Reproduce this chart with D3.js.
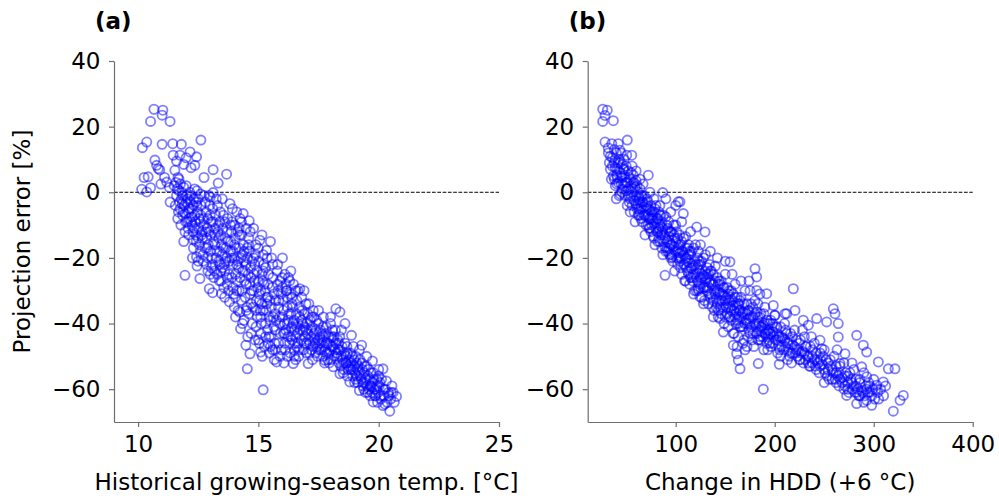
<!DOCTYPE html>
<html>
<head>
<meta charset="utf-8">
<script src="https://cdn.jsdelivr.net/npm/d3@7"></script>
<style>
  body { margin: 0; background: #fff; }
  svg { font-family: "DejaVu Sans", sans-serif; }
  .tick text { font-size: 23px; fill: #000; }
  .tick line, .domain { stroke: #6e6e6e; stroke-width: 1.2px; }
</style>
</head>
<body>
<div id="chart"></div>
<script>
// panel (a): historical growing-season temp [°C] vs projection error [%]
const tempPoints = [
  [10.66,25.3],[11.03,25],[11.0,23.5],[10.52,21.6],[11.33,21.6],
  [10.18,13.6],[10.36,15.3],[11.0,14.6],[11.44,14.8],[11.8,14.6],[12.61,15.9],
  [10.15,0.9],[10.36,0.1],[10.52,1.4],[10.25,4.5],[10.42,4.7],[10.7,9.8],[10.77,8.2],[10.84,7.2],[10.9,6.8],
  [11.46,11.3],[11.74,11.3],[12.16,12.3],[12.43,10.8],[12.36,8.2],[12.74,4.5],[13.12,6.9],[13.68,5.5],
  [13.33,2.8],[13.12,-0.1],[11.33,-3],[11.19,3.1],[11.53,6.7],[11.6,9.5],[11.9,8.5],[12.0,10.5],[12.2,7.5],
  [11.1,4.5],[11.3,1.5],[10.95,2.5],[11.7,4.0],
  [11.5,2],[11.6,-1],[11.7,0.5],[11.8,-2],[11.55,-4],[11.9,1.5],[11.75,-5],[11.85,-7],[12.0,-3],[12.05,-9],
  [11.95,-12],[12.1,-6],[11.65,-8],[11.95,-25.3],[11.9,-15],
  [12.2,-1],[12.3,-4],[12.25,-10],[12.4,-13],[12.35,-7],[12.5,-2],[12.55,-16],[12.43,-19.7],[12.57,-26.3],
  [12.3,-17],[12.6,-9],[12.45,0.5],[12.65,-12],[12.5,-21],
  [12.8,-3],[12.9,-8],[12.85,-14],[13.0,-18],[12.96,-29.4],[13.1,-30.6],[13.05,-23],[13.1,-5],[13.2,-11],
  [12.9,-20],[13.15,-26],[13.2,-16],[13.0,-1.5],
  [13.3,-4],[13.4,-9],[13.35,-14],[13.5,-19],[13.47,-30.9],[13.6,-24],[13.45,-27],[13.55,-7],[13.7,-12],
  [13.65,-17],[13.4,-22],[13.7,-28],[13.5,-2],[13.6,-32],
  [13.82,-3.5],[13.8,-33.4],[13.9,-9],[13.85,-15],[14.0,-20],[14.05,-25],[13.95,-29],[14.1,-6],[14.15,-12],
  [14.2,-17],[14.0,-35],[14.2,-30],[14.1,-22],[13.9,-26],[14.05,-38],
  [14.23,-36.5],[14.26,-41.6],[14.48,-46.6],[14.65,-49.2],[14.54,-53.8],[14.37,-6.5],[14.62,-8.7],[14.3,-13],
  [14.4,-18],[14.35,-24],[14.5,-28],[14.45,-32],[14.6,-14],[14.55,-20],[14.7,-26],[14.4,-39],[14.6,-37],
  [14.7,-43],[14.5,-11],[14.65,-31],[14.3,-9],
  [14.8,-11],[14.9,-16],[14.85,-22],[15.0,-27],[15.05,-33],[14.95,-38],[15.1,-43],[15.09,-48.7],[15.2,-60.2],
  [15.06,-14.6],[15.2,-19],[15.15,-25],[15.1,-30],[14.9,-41],[15.2,-36],[15.0,-45],[14.8,-30],[15.15,-13],
  [15.34,-17.7],[15.3,-23],[15.4,-28],[15.35,-34],[15.5,-39],[15.45,-44],[15.6,-48],[15.76,-51.7],[15.55,-20],
  [15.6,-26],[15.65,-31],[15.7,-37],[15.5,-15],[15.4,-46],[15.7,-42],[15.3,-40],
  [15.8,-22],[15.9,-27],[15.85,-33],[16.0,-38],[16.05,-43],[15.95,-48],[16.1,-25],[16.15,-30],[16.2,-35],
  [16.0,-20],[16.1,-46],[16.2,-40],[15.9,-50],[16.2,-50],[16.15,-28],
  [16.3,-27],[16.4,-32],[16.35,-37],[16.5,-42],[16.45,-52.2],[16.6,-47],[16.55,-30],[16.72,-29.4],[16.7,-35],
  [16.65,-40],[16.4,-45],[16.5,-50],[16.6,-33],[16.35,-24],
  [16.8,-32],[16.9,-37],[16.85,-42],[17.0,-46],[17.07,-52.2],[17.1,-34],[17.15,-39],[17.2,-44],[17.0,-49],
  [16.9,-30],[17.2,-48],[17.28,-36],
  [17.3,-38],[17.4,-42],[17.35,-46],[17.5,-40],[17.55,-44],[17.6,-48],[17.7,-41],[17.65,-45],[17.45,-50],
  [17.76,-51.2],[17.5,-36],[17.7,-38],
  [17.8,-43],[17.9,-46],[17.85,-49],[18.0,-40],[18.05,-44],[18.1,-47],[18.11,-53.2],[18.22,-35.5],[18.2,-42],
  [18.15,-50],[17.95,-52],[18.0,-38],
  [18.39,-36.5],[18.39,-55.3],[18.3,-45],[18.4,-48],[18.5,-51],[18.45,-42],[18.6,-46],[18.55,-54],[18.7,-49],
  [18.65,-52],[18.6,-40],[18.35,-52],[18.7,-56],
  [18.87,-43.6],[18.8,-57.8],[18.9,-50],[19.0,-53],[18.95,-47],[19.1,-56],[19.05,-50],[19.2,-60.4],[19.15,-53],
  [19.2,-48],[18.85,-54],[19.0,-58],
  [19.29,-46.6],[19.3,-52],[19.4,-55],[19.35,-58],[19.5,-53],[19.55,-56],[19.6,-60],[19.7,-55],[19.65,-62],
  [19.45,-61],[19.5,-50],
  [19.74,-51.4],[19.77,-63.9],[19.8,-57],[19.9,-60],[20.0,-54],[20.05,-58],[20.1,-62],[20.18,-53.8],[20.18,-65],
  [19.95,-64],[20.2,-60],[20.0,-56],
  [20.32,-57.5],[20.74,-62.2],[20.46,-66.7],[20.4,-61],[20.5,-63],[20.55,-59],[20.6,-61],[20.35,-64],[20.65,-64]
]

// densest part of the (a) cloud
const tempCore = [
  [11.62,1],[11.72,-3],[11.82,0],[11.92,-4],[12.02,-1],[12.12,-8],[11.68,-6],[11.78,-10],[11.88,-6],
  [11.98,-9],[12.08,-11],[12.18,-3],[11.58,3],[11.66,4.5],[11.76,2.5],[11.86,-1],[12.0,2],[12.15,0],
  [12.22,-5],[12.28,-12],[12.32,-2],[12.38,-9],[12.42,-15],[12.48,-6],[12.52,-11],[12.58,-18],[12.62,-4],
  [12.68,-14],[12.72,-8],[12.78,-17],[12.26,-20],[12.45,-22.5],[12.7,-21],[12.75,-1],[12.35,1],[12.6,-0.5],
  [12.82,-6],[12.88,-11],[12.92,-16],[12.98,-4],[13.02,-13],[13.08,-20],[13.12,-9],[13.18,-24],[13.22,-7],
  [13.28,-18],[13.32,-12],[13.38,-27],[12.84,-22],[13.0,-25],[13.25,-2],[13.36,-21],[12.95,-1],
  [13.42,-6],[13.46,-16],[13.52,-11],[13.58,-22],[13.62,-14],[13.68,-20],[13.72,-8],[13.78,-25],[13.84,-18],
  [13.88,-12],[13.94,-22],[13.98,-31],[13.44,-24],[13.56,-29],[13.76,-30],[13.92,-5],
  [14.02,-10],[14.08,-17],[14.12,-27],[14.18,-23],[14.22,-13],[14.28,-20],[14.32,-30],[14.38,-16],[14.42,-27],
  [14.48,-22],[14.52,-35],[14.58,-25],[14.04,-32],[14.16,-36],[14.34,-40],[14.56,-44],[14.24,-8],
  [14.62,-18],[14.68,-23],[14.72,-30],[14.78,-35],[14.82,-25],[14.88,-19],[14.92,-33],[14.98,-29],[15.02,-21],
  [15.08,-36],[15.12,-40],[15.18,-27],[14.75,-40],[14.86,-45],[15.04,-46],[15.16,-50],[14.66,-12],
  [15.22,-22],[15.28,-30],[15.32,-36],[15.38,-42],[15.42,-25],[15.48,-33],[15.52,-44],[15.58,-29],[15.62,-38],
  [15.68,-46],[15.72,-33],[15.78,-24],[15.25,-47],[15.46,-49],[15.66,-51],[15.36,-20],
  [15.82,-30],[15.88,-38],[15.92,-43],[15.98,-26],[16.02,-33],[16.08,-40],[16.12,-48],[16.18,-30],[16.22,-44],
  [16.28,-37],[16.32,-49],[16.38,-41],[15.84,-46],[16.06,-52],[16.25,-26],[16.36,-31],
  [16.42,-35],[16.48,-39],[16.52,-46],[16.58,-37],[16.62,-43],[16.68,-50],[16.72,-38],[16.78,-45],[16.82,-36],
  [16.88,-48],[16.92,-41],[16.98,-34],[16.46,-28],[16.64,-30],[16.55,-51],
  [17.02,-40],[17.08,-45],[17.12,-49],[17.18,-42],[17.22,-38],[17.28,-47],[17.32,-43],[17.38,-49],[17.42,-39],
  [17.48,-45],[17.52,-48],[17.58,-42],[17.05,-37],[17.25,-51],
  [17.62,-46],[17.68,-50],[17.72,-44],[17.78,-48],[17.82,-41],[17.88,-51],[17.92,-44],[17.98,-48],[18.02,-51],
  [18.08,-42],[18.12,-45],[18.18,-48],[17.75,-52],
  [18.22,-46],[18.28,-50],[18.32,-48],[18.38,-44],[18.42,-53],[18.48,-47],[18.52,-55],[18.58,-49],[18.62,-52],
  [18.68,-47],[18.72,-53],[18.78,-51],
  [18.82,-49],[18.88,-53],[18.92,-56],[18.98,-51],[19.02,-55],[19.08,-52],[19.12,-58],[19.18,-55],[19.22,-51],
  [19.28,-57],[19.32,-54],[19.38,-60],
  [19.42,-53],[19.48,-57],[19.52,-59],[19.58,-54],[19.62,-57],[19.68,-59],[19.72,-61],[19.78,-55],[19.82,-60],
  [19.88,-62],[19.92,-57],[19.98,-61],
  [20.02,-59],[20.08,-63],[20.12,-57],[20.22,-62],[20.28,-60],[20.42,-62],[20.52,-61],[20.25,-64.5],
  [11.84,-3.5],[11.96,-6.5],[12.06,-2],[12.14,-5],[12.24,-7.5],[12.34,-11],[12.44,-4],[12.54,-8],[12.64,-13],
  [12.74,-10],[12.86,-17],[12.94,-12],[13.04,-9],[13.14,-15],[13.24,-20],[13.34,-10],[13.44,-13],[13.54,-17],
  [13.64,-21],[13.74,-15],[13.84,-10],[13.94,-18],[14.04,-14],[14.14,-21],[14.24,-26],[14.34,-19],[14.44,-24],
  [14.54,-17],[14.64,-28],[14.74,-21],[14.84,-27],[14.94,-24],[15.04,-31],[15.14,-34],[15.24,-28],[15.34,-32],
  [15.44,-38],[15.54,-35],[15.64,-41],[15.74,-39],[15.84,-35],[15.94,-31],[16.04,-36],[16.14,-42],[16.24,-39],
  [16.34,-44],[16.44,-40],[16.54,-44],[16.64,-46],[16.74,-42],[16.84,-40],[16.94,-44],[17.04,-43],[17.14,-46],
  [17.24,-41],[17.34,-45],[17.44,-47],[17.54,-46],[17.64,-43],[17.74,-47],[17.84,-46],[17.94,-49],[18.04,-47],
  [18.14,-44],[18.24,-49],[18.34,-46],[18.44,-50],[18.54,-52],[18.64,-50],[18.74,-54],[18.84,-52],[18.94,-54],
  [19.04,-57],[19.14,-54],[19.24,-56],[19.34,-59],[19.44,-58],[19.54,-61],[19.64,-59],[19.74,-58],[19.84,-62],
  [19.94,-59],
  [12.1,-13],[12.3,-14.5],[12.5,-14],[12.7,-19],[12.9,-24],[13.1,-22],[13.3,-25],[13.5,-23],[13.7,-26],
  [13.9,-20],[14.1,-30],[14.3,-33],[14.5,-36],[14.7,-34],[14.9,-36],[15.1,-38],[15.3,-44],[15.5,-47],
  [15.7,-48],[15.9,-40],[16.1,-43],[16.3,-46],[16.5,-48],[16.7,-48],[16.9,-46],[12.2,-9],[12.4,-3],[12.6,-7],
  [12.8,-12],[13.0,-7],[13.2,-13],[13.4,-18],[13.6,-9],[13.8,-21],[14.0,-16],[14.2,-11],[14.4,-21],[14.6,-16],
  [14.8,-20],[15.0,-17],[15.2,-24],[15.4,-32],[15.6,-22],[15.8,-28],[16.0,-29],[16.2,-32],[16.4,-34],[16.6,-41],
  [16.8,-39],[17.0,-42]
]

// panel (b): change in HDD (+6 °C) vs projection error [%]
const hddPoints = [
  [26.3,25.3],[30.9,25],[28.6,23.4],[26.3,21.6],[37,21.8],[28.6,15.3],[35.4,14.8],[42,14.8],[51.1,15.9],
  [31.9,13.5],[43.7,12.8],[38.7,9.8],[50.5,11.3],[55.6,11.3],[40.4,5.2],[40.4,2.6],[45.5,0.1],[57.2,5.2],
  [72.3,5.2],[102.6,-2.9],[86.9,-0.1],[104.3,-2.9],[107.7,-6.5],[63.2,-7.0],[77.4,-13.4],[89.2,-16.7],
  [121.2,-10.6],[129.6,-12.1],
  [89.2,-25.3],[96,-19.7],[122.8,-29.4],[124.5,-31.9],[144.7,-38.5],[148.1,-42.6],[158.2,-46.6],[161.6,-49.2],
  [165,-53.8],[163.2,-51.2],[183.4,-52.2],[204.6,-52.4],[188.5,-60],
  [154.8,-21.2],[180.1,-23.3],[181.8,-25.8],[174,-27],[181.8,-29.9],[191.9,-30.9],[198.6,-34.5],[210.4,-37],
  [220.5,-36],[218.8,-29.4],[259.2,-35.5],[260.9,-37],[242.4,-38.5],[252.5,-39.5],[264.2,-40],[228.9,-39],
  [234,-40.5],[212.1,-37],[200.3,-37.5],[264.2,-44.1],[271,-49.2],[245.8,-45.1],[247.5,-47.7],
  [272.7,-61.9],[282.8,-64.4],[292.9,-63.4],[298,-64.9],[319.8,-66.7],[326.6,-63.4],[329.9,-61.9],
  [304.7,-51.7],[314.8,-53.8],[321.5,-53.8],[309.7,-57.8],[282.8,-43.6],[289.5,-46.6],[292.9,-48.7],
  [266,-52.2],[287.9,-53.2],[292.9,-56.2],[303,-58.8],
  [36,8],[38,4],[42,9],[44,6],[40,12],[45,2.5],[43,-1],[34,11],[39,7.5],
  [47,7],[49,3],[50,0.5],[52,6.5],[53,-3],[48,10],[55,2],[54,-6],[46,4.5],
  [57,1],[58,-2.5],[60,3.5],[61,-5],[62,0],[64,-3],[65,-8],[59,-9],[63,-1.5],
  [66,-1],[68,-4.5],[70,-7],[71,-2],[72,-10],[74,-5.5],[75,-12],[69,-13],[73,-8],
  [76,-6],[78,-9.5],[80,-4],[81,-12],[82,-8],[84,-15],[85,-10.5],[79,-16],[83,-11],
  [86,-9],[88,-13],[90,-7.5],[91,-17],[92,-11],[94,-15.5],[95,-20],[87,-19],[93,-13.5],
  [96,-12],[98,-16.5],[100,-10],[101,-20],[102,-14],[104,-18.5],[105,-23],[99,-24],[103,-16],
  [106,-15],[108,-19],[110,-13.5],[111,-23],[112,-17],[114,-21.5],[115,-26],[109,-27],[113,-19],
  [116,-18],[118,-22.5],[120,-16],[121,-26],[122,-20],[124,-24],[125,-29],[119,-30],[123,-22],
  [126,-21],[128,-25.5],[130,-19],[131,-29],[132,-23],[134,-27.5],[135,-32],[129,-33],[133,-25],
  [136,-24],[138,-28],[140,-22.5],[141,-32],[142,-26],[144,-30.5],[145,-35],[139,-36],[143,-28],
  [146,-27],[148,-31.5],[150,-25],[151,-35],[152,-29],[154,-33],[155,-38],[149,-40],[153,-31],
  [156,-30],[158,-34.5],[160,-28],[161,-37],[162,-32],[164,-36],[165,-41],[159,-43],[163,-34],
  [166,-32],[168,-36.5],[170,-30],[171,-39],[172,-34],[174,-38.5],[175,-43],[169,-45],[173,-36],
  [176,-34],[178,-38],[180,-33],[181,-41],[182,-36.5],[184,-40],[185,-44],[179,-47],[183,-38],
  [186,-37],[188,-40.5],[190,-35],[191,-43],[192,-39],[194,-42],[195,-46],[189,-48],
  [196,-39],[198,-42.5],[200,-37.5],[201,-45],[202,-41],[204,-44],[205,-48],
  [206,-41],[208,-44.5],[210,-40],[211,-47],[212,-43],[214,-46],[215,-50],
  [216,-43],[218,-46.5],[220,-42],[221,-49],[222,-45],[224,-48],[225,-51],
  [226,-45],[228,-48.5],[230,-44],[231,-51],[232,-47],[234,-50],[235,-53],
  [236,-47],[238,-50],[240,-46],[241,-53],[242,-49],[244,-52],[245,-55],
  [246,-49],[248,-52.5],[250,-48],[251,-55],[252,-51],[254,-54],[255,-57],
  [256,-51],[258,-54],[260,-50],[261,-57],[262,-53],[264,-56],[265,-59],
  [266,-53],[268,-56.5],[270,-52],[271,-59],[272,-55],[274,-58],[275,-61],
  [276,-55],[278,-58],[280,-54],[281,-61],[282,-57],[284,-60],[285,-62],
  [286,-57],[288,-60.5],[290,-55],[291,-62],[292,-59],[294,-61],[295,-58],
  [296,-59],[298,-62],[300,-57],[301,-63],[302,-60],[304,-61],
  [307,-60],[310,-62],[312,-59]
]

// densest part of the (b) cloud
const hddCore = [
  [32,12],[34,7],[36,10.5],[37,5],[38,13],[39,2],[41,7],[42,3],[43,10],[44,-0.5],[46,8.5],[47,2],[48,5],
  [49,-1],[50,8],[51,3],[33,9],[35,4],[45,12],[40,-2],
  [52,1],[53,4.5],[54,-2],[55,6],[56,-4],[57,3],[58,-6],[59,1.5],[60,-3.5],[61,2],[62,-7],[63,-2],[64,1],
  [65,-5],[66,-9],[67,-3],[68,-1],[69,-7],[70,-10],[56,8],[60,6.5],[64,4],[51,-4],[67,2.5],
  [71,-5],[72,-3],[73,-11],[74,-8],[75,-4],[76,-10],[77,-7],[78,-14],[79,-5],[80,-11],[81,-8],[82,-15],
  [83,-6],[84,-10],[85,-13],[86,-17],[87,-11],[88,-7],[89,-14],[90,-18],[74,0],[78,-2],[84,-4],[90,-2],
  [91,-10],[92,-15],[93,-9],[94,-19],[95,-12],[96,-16],[97,-21],[98,-10],[99,-14],[100,-18],[101,-12],
  [102,-22],[103,-17],[104,-13],[105,-20],[106,-25],[107,-18],[108,-14],[109,-22],[110,-17],[95,-6],
  [100,-4],[106,-9],[110,-27],
  [111,-20],[112,-24],[113,-16],[114,-28],[115,-19],[116,-23],[117,-27],[118,-17],[119,-21],[120,-25],
  [121,-30],[122,-23],[123,-18],[124,-28],[125,-22],[126,-32],[127,-26],[128,-20],[129,-29],[130,-24],
  [115,-12],[125,-16],[118,-31],[128,-34],
  [131,-25],[132,-30],[133,-34],[134,-22],[135,-27],[136,-31],[137,-35],[138,-25],[139,-30],[140,-27],
  [141,-35],[142,-30],[143,-38],[144,-33],[145,-28],[146,-37],[147,-31],[148,-35],[149,-29],[150,-38],
  [135,-18],[142,-20],[138,-38],[150,-21],
  [151,-32],[152,-37],[153,-41],[154,-30],[155,-35],[156,-39],[157,-33],[158,-43],[159,-36],[160,-32],
  [161,-40],[162,-35],[163,-44],[164,-38],[165,-33],[166,-41],[167,-37],[168,-46],[169,-34],[170,-40],
  [157,-25],[166,-27],[162,-47],[170,-48],
  [172,-37],[174,-42],[176,-38],[177,-45],[178,-35],[180,-40],[182,-43],[183,-34],[185,-38],[186,-45],
  [187,-41],[189,-37],[190,-43],[192,-46],[193,-40],[195,-43],[196,-47],[198,-40],[199,-44],[175,-30],
  [185,-31],[193,-48],[172,-47],
  [202,-43],[204,-47],[207,-44],[209,-48],[211,-42],[213,-46],[216,-49],[218,-44],[220,-47],[223,-50],
  [225,-46],[227,-49],[229,-52],[231,-47],[233,-50],[236,-53],[238,-48],[240,-51],[206,-50],[217,-52],
  [228,-42],[237,-44],
  [243,-51],[246,-53],[249,-50],[253,-56],[256,-53],[259,-55],[262,-58],[265,-55],[268,-58],[271,-56],
  [274,-60],[277,-57],[280,-59],[283,-61],[286,-58],[289,-61],[293,-60],[296,-61],[299,-60],[250,-58],
  [263,-48],[278,-52],[290,-64],[305,-63],
  [38,9],[41,4.5],[44,9],[46,1],[48,7],[50,3],[52,-1],[54,4],[56,0],[58,3],[60,-1],[62,-4],[64,-6],[66,-3],
  [68,-7],[70,-4],[72,-7],[74,-11],[76,-8],[78,-6],[80,-9],[82,-12],[84,-7],[86,-12],[88,-15],[90,-12],
  [92,-18],[94,-12],[96,-19],[98,-13],[100,-15],[102,-18],[104,-21],[106,-18],[108,-22],[110,-20],[112,-21],
  [114,-18],[116,-26],[118,-25],[120,-22],[122,-27],[124,-21],[126,-25],[128,-29],[130,-27],[132,-26],
  [134,-31],[136,-28],[138,-33],[140,-31],[142,-34],[144,-27],[146,-33],[148,-29],[150,-33],[152,-34],
  [154,-38],[156,-36],[158,-31],[160,-38],[162,-39],[164,-34],[166,-38],[168,-41],[170,-37],[172,-40],
  [174,-36],[176,-41],[178,-43],[180,-37],[182,-40],[184,-45],[186,-41],[188,-44],[190,-40],[192,-42],
  [194,-45],[196,-43],[198,-46],[200,-41],[203,-45],[207,-47],[210,-45],[214,-48],[218,-49],[222,-48],
  [226,-51],[230,-49],[234,-52],[238,-52],[242,-54],[246,-51],[250,-54],[254,-52],[258,-57],[262,-55],
  [266,-57],[270,-60],[274,-56],[278,-60],[282,-59],[286,-62],
  [45,5],[55,-1],[65,-1],[75,-8],[85,-7],[95,-16],[105,-16],[115,-23],[125,-26],[135,-24],[145,-31],
  [155,-32],[165,-36],[175,-40],[185,-42],[195,-40],[205,-44],[215,-45],[63,-5],[73,-5],[83,-14],[93,-17],
  [103,-20],[113,-25],[123,-30],[133,-29],[143,-36],[153,-35],[163,-40],[173,-44],[183,-45],[193,-44],
  [203,-49],[213,-51]
]

const errTicks = [-60, -40, -20, 0, 20, 40]
const tempTicks = [10, 15, 20, 25]
const hddTicks = [100, 200, 300, 400]

const width = 999
const height = 501
const plotTop = 61, plotBottom = 422
const fontPx = '23px'

const svg = d3.select('#chart').append('svg')
    .attr('width', width)
    .attr('height', height)

const yScale = d3.scaleLinear()
    .domain([-70, 40])
    .range([plotBottom, plotTop])

function drawPanel(points, xDomain, xRange, xTicks, xLabel, tag) {
    const xScale = d3.scaleLinear()
        .domain(xDomain)
        .range(xRange)

    const g = svg.append('g')

    // zero line
    g.append('line')
        .attr('x1', xRange[0])
        .attr('x2', xRange[1])
        .attr('y1', yScale(0))
        .attr('y2', yScale(0))
        .attr('stroke', '#000')
        .attr('stroke-width', 1)
        .attr('stroke-dasharray', '3.7,1.6')

    g.append('g')
        .selectAll('circle')
        .data(points)
        .enter()
        .append('circle')
            .attr('cx', d => xScale(d[0]))
            .attr('cy', d => yScale(d[1]))
            .attr('r', 4.6)
            .attr('fill', 'none')
            .attr('stroke', 'blue')
            .attr('stroke-opacity', 0.5)
            .attr('stroke-width', 1.8)

    const xAxis = d3.axisBottom(xScale)
        .tickValues(xTicks)
        .tickSize(5)
        .tickPadding(9)
        .tickSizeOuter(0)
    const yAxis = d3.axisLeft(yScale)
        .tickValues(errTicks)
        .tickSize(5)
        .tickPadding(8.5)
        .tickSizeOuter(0)
        .tickFormat(d => d < 0 ? '\u2212' + Math.abs(d) : d)

    g.append('g')
        .attr('transform', `translate(0, ${plotBottom})`)
        .call(xAxis)
        .attr('font-family', null)
        .attr('font-size', null)
    g.append('g')
        .attr('transform', `translate(${xRange[0]}, 0)`)
        .call(yAxis)
        .attr('font-family', null)
        .attr('font-size', null)

    g.append('text')
        .text(xLabel)
        .attr('x', (xRange[0] + xRange[1]) / 2)
        .attr('y', 490)
        .attr('text-anchor', 'middle')
        .style('font-size', fontPx)

    g.append('text')
        .text(tag)
        .attr('x', xRange[0] - 19)
        .attr('y', 29)
        .style('font-size', fontPx)
        .style('font-weight', 'bold')
}

drawPanel(tempPoints.concat(tempCore), [9, 25], [114, 499], tempTicks,
    'Historical growing-season temp. [\u00b0C]', '(a)')
drawPanel(hddPoints.concat(hddCore), [11.1, 400], [587.7, 972.7], hddTicks,
    'Change in HDD (+6 \u00b0C)', '(b)')

svg.append('text')
    .text('Projection error [%]')
    .attr('transform', `translate(30, ${(plotTop + plotBottom) / 2}) rotate(-90)`)
    .attr('text-anchor', 'middle')
    .style('font-size', fontPx)
</script>
</body>
</html>
